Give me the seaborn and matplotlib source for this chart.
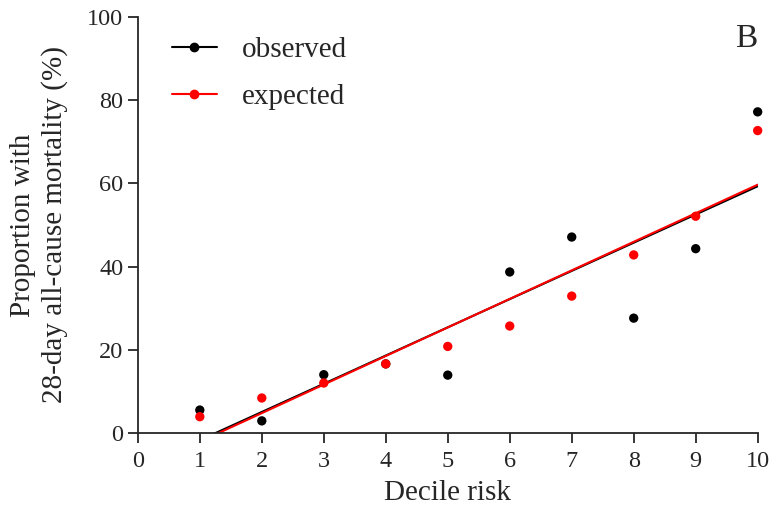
import numpy as np
import pandas as pd
import matplotlib
matplotlib.use('Agg')
import matplotlib.pyplot as plt
from matplotlib.lines import Line2D
import seaborn as sns

deciles = [1, 2, 3, 4, 5, 6, 7, 8, 9, 10]
observed = [5.5, 2.9, 14.0, 16.6, 13.9, 38.7, 47.1, 27.6, 44.3, 77.2]
expected = [3.9, 8.4, 12.0, 16.6, 20.8, 25.7, 32.9, 42.8, 52.1, 72.7]

df = pd.DataFrame({'decile': deciles, 'observed': observed, 'expected': expected})

sns.set_style('ticks')
plt.rcParams['font.family'] = ['Liberation Serif', 'DejaVu Serif']

fig = plt.figure(figsize=(7.7, 5.16), dpi=100)
ax = fig.add_axes([0.179, 0.161, 0.805, 0.806])

# fitted lines, then the points on top
sns.regplot(data=df, x='decile', y='observed', scatter=False, ci=None, ax=ax,
            line_kws={'color': 'black', 'lw': 1.5})
sns.regplot(data=df, x='decile', y='expected', scatter=False, ci=None, ax=ax,
            line_kws={'color': 'red', 'lw': 1.5})
sns.scatterplot(data=df, x='decile', y='observed', color='black', s=45,
                edgecolor='none', ax=ax, clip_on=False, zorder=3)
sns.scatterplot(data=df, x='decile', y='expected', color='red', s=45,
                edgecolor='none', ax=ax, clip_on=False, zorder=4)

ax.set_xlim(0, 10)
ax.set_ylim(0, 100)
ax.set_xticks(range(0, 11))
ax.set_yticks(range(0, 101, 20))
sns.despine(ax=ax)
for s in ['left', 'bottom']:
    ax.spines[s].set_linewidth(1.3)
ax.tick_params(axis='both', labelsize=17.5, width=1.3, length=7, direction='out')
ax.tick_params(axis='x', pad=6)

ax.set_xlabel('Decile risk', fontsize=21, labelpad=6)
ax.set_ylabel('Proportion with\n28-day all-cause mortality (%)', fontsize=21,
              labelpad=14, linespacing=1.25)

handles = [Line2D([], [], color='black', marker='o', markersize=6, lw=1.5),
           Line2D([], [], color='red', marker='o', markersize=6, lw=1.5)]
ax.legend(handles, ['observed', 'expected'], loc='upper left',
          bbox_to_anchor=(0.012, 1.015), frameon=False, fontsize=21,
          handlelength=1.55, handletextpad=0.85, labelspacing=0.7)

ax.text(1.0, 0.985, 'B', transform=ax.transAxes, fontsize=24,
        ha='right', va='top')

fig.savefig('out.png', dpi=100)
